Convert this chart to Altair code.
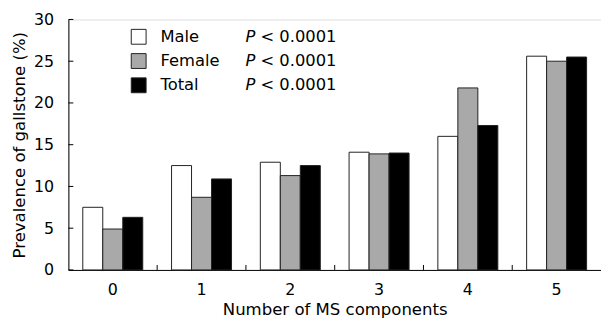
import altair as alt
import pandas as pd

categories = ["0", "1", "2", "3", "4", "5"]
series = ["Male", "Female", "Total"]
male = [7.5, 12.5, 12.9, 14.1, 16.0, 25.6]
female = [4.9, 8.7, 11.3, 13.9, 21.8, 25.0]
total = [6.3, 10.9, 12.5, 14.0, 17.3, 25.5]
p_text = ["< 0.0001", "< 0.0001", "< 0.0001"]
y_ticks = [0, 5, 10, 15, 20, 25, 30]
colors = ["#ffffff", "#a9a9a9", "#000000"]

rows = []
for s, vals in zip(series, [male, female, total]):
    for c, v in zip(categories, vals):
        rows.append({"cat": c, "series": s, "value": v})
df = pd.DataFrame(rows)

W, H = 538, 253
FONT = "DejaVu Sans"

xscale = alt.Scale(domain=categories, paddingInner=0, paddingOuter=0)
yscale = alt.Scale(domain=[0, 30], nice=False)
cscale = alt.Scale(domain=series, range=colors)

xaxis = alt.Axis(title="Number of MS components", labelAngle=0, ticks=False,
                 tickSize=0, labelPadding=12, titlePadding=4,
                 domainColor="black", labelColor="black", titleColor="black",
                 labelFontSize=16, titleFontSize=16.7, labelFont=FONT, titleFont=FONT,
                 titleFontWeight="normal")

bars = alt.Chart(df).mark_bar(stroke="#222222", strokeWidth=1).encode(
    x=alt.X("cat:N", scale=xscale, sort=categories, axis=xaxis),
    xOffset=alt.XOffset("series:N", sort=series,
                        scale=alt.Scale(paddingInner=0, paddingOuter=0.72)),
    y=alt.Y("value:Q", scale=yscale,
            axis=alt.Axis(title="Prevalence of gallstone (%)", values=y_ticks, ticks=False,
                          tickSize=0, labelPadding=15, titlePadding=5, grid=False,
                          domainColor="black", labelColor="black", titleColor="black",
                          labelFontSize=16, titleFontSize=16.7, labelFont=FONT, titleFont=FONT,
                          titleFontWeight="normal")),
    fill=alt.Color("series:N", scale=cscale, legend=None),
)

ytick_df = pd.DataFrame({"v": y_ticks})
yticks = alt.Chart(ytick_df).mark_rule(color="black", strokeWidth=1).encode(
    y=alt.Y("v:Q", scale=yscale, axis=None),
    x=alt.value(0), x2=alt.value(5),
)

xtick_df = pd.DataFrame({"cat": categories[1:]})
xticks = alt.Chart(xtick_df).mark_rule(color="black", strokeWidth=1).encode(
    x=alt.X("cat:N", scale=xscale, sort=categories, bandPosition=0, axis=xaxis),
    y=alt.value(H - 5), y2=alt.value(H),
)

leg_df = pd.DataFrame({"series": series, "p": p_text, "idx": [0, 1, 2]})
leg_base = alt.Chart(leg_df).transform_calculate(py="17.5 + datum.idx * 24.5")

leg_sq = leg_base.mark_square(size=225, stroke="#222222", strokeWidth=1, opacity=1).encode(
    x=alt.value(71),
    y=alt.Y("py:Q", scale=None, axis=None),
    fill=alt.Color("series:N", scale=cscale, legend=None),
)
leg_lab = leg_base.mark_text(align="left", baseline="middle", fontSize=16.5, font=FONT,
                             color="black").encode(
    x=alt.value(93), y=alt.Y("py:Q", scale=None, axis=None), text="series:N")
leg_P = leg_base.mark_text(align="left", baseline="middle", fontSize=16.5, font=FONT,
                           fontStyle="italic", color="black", text="P").encode(
    x=alt.value(179), y=alt.Y("py:Q", scale=None, axis=None))
leg_p = leg_base.mark_text(align="left", baseline="middle", fontSize=16.5, font=FONT,
                           color="black").encode(
    x=alt.value(194), y=alt.Y("py:Q", scale=None, axis=None), text="p:N")

chart = alt.layer(bars, xticks, yticks, leg_sq, leg_lab, leg_P, leg_p).resolve_scale(
    y="independent"
).properties(
    width=W, height=H,
    autosize=alt.AutoSizeParams(type="none"),
    padding={"left": 61, "top": 10, "right": 0, "bottom": 49},
).configure_view(stroke=None).configure(background="white")

chart.save("out.html", embed_options={"renderer": "svg", "actions": False})
